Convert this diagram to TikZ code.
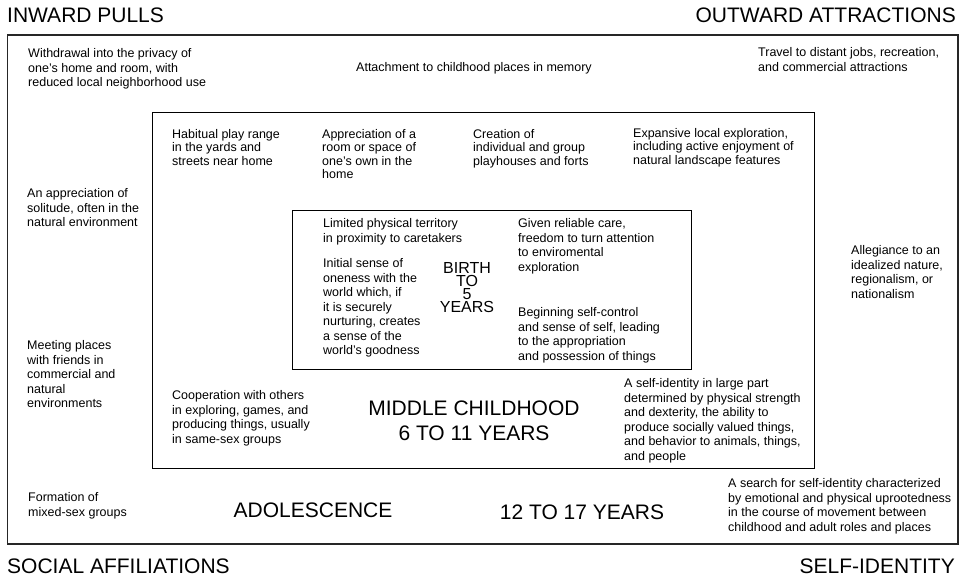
\documentclass[tikz,border=0pt]{standalone}
\usepackage{fontspec}
\setmainfont{Liberation Sans}
\begin{document}
\begin{tikzpicture}[x=1pt,y=-1pt,
  txt/.style={anchor=north west,inner sep=0pt,align=left,font=\fontsize{12.5}{14.5}\selectfont},
  txtb/.style={txt,font=\fontsize{12.5}{13.3}\selectfont},
  big/.style={inner sep=0pt,align=center,font=\fontsize{21}{25}\selectfont},
  mid/.style={inner sep=0pt,align=center,font=\fontsize{16}{13}\selectfont},
  frameo/.style={draw=black!85,line width=1.4pt},
  framei/.style={draw=black,line width=1pt}]
\useasboundingbox (0,0) rectangle (964,577);
% frames
\draw[frameo] (7.5,35) rectangle (958,544);
\draw[framei] (152.5,112.5) rectangle (814,468.5);
\draw[framei] (292.5,211) rectangle (691,369.5);
% titles
\node[big,anchor=west] (tl) at (7,15) {INWARD PULLS};
\node[big,anchor=east] (tr) at (956,15) {OUTWARD ATTRACTIONS};
\node[big,anchor=west] (bl) at (7,566) {SOCIAL AFFILIATIONS};
\node[big,anchor=east] (br) at (955,566) {SELF-IDENTITY};
% outer ring
\node[txt] (o1) at (28,48.4) {Withdrawal into the privacy of\\one’s home and room, with\\reduced local neighborhood use};
\node[txt] (o2) at (356,62.4) {Attachment to childhood places in memory};
\node[txt] (o3) at (758,47.4) {Travel to distant jobs, recreation,\\and commercial attractions};
\node[txt] (o4) at (27,188.4) {An appreciation of\\solitude, often in the\\natural environment};
\node[txt] (o5) at (27,340.4) {Meeting places\\with friends in\\commercial and\\natural\\environments};
\node[txt] (o6) at (851,245.4) {Allegiance to an\\idealized nature,\\regionalism, or\\nationalism};
\node[txt] (o7) at (28,492.4) {Formation of\\mixed-sex groups};
\node[big] (adol) at (313,510) {ADOLESCENCE};
\node[big] (adoly) at (582,512) {12 TO 17 YEARS};
\node[txt] (o8) at (728,478.4) {A search for self-identity characterized\\by emotional and physical uprootedness\\in the course of movement between\\childhood and adult roles and places};
% middle ring
\node[txtb] (m1) at (172,129.4) {Habitual play range\\in the yards and\\streets near home};
\node[txtb] (m2) at (322,129.4) {Appreciation of a\\room or space of\\one’s own in the\\home};
\node[txtb] (m3) at (473,129.4) {Creation of\\individual and group\\playhouses and forts};
\node[txtb] (m4) at (633,128.4) {Expansive local exploration,\\including active enjoyment of\\natural landscape features};
\node[txt] (m5) at (172,390.4) {Cooperation with others\\in exploring, games, and\\producing things, usually\\in same-sex groups};
\node[big] (midc) at (474,420.5) {MIDDLE CHILDHOOD\\6 TO 11 YEARS};
\node[txt] (m6) at (624,378.4) {A self-identity in large part\\determined by physical strength\\and dexterity, the ability to\\produce socially valued things,\\and behavior to animals, things,\\and people};
% inner
\node[txt] (i1) at (323,218.4) {Limited physical territory\\in proximity to caretakers};
\node[txt] (i2) at (518,218.4) {Given reliable care,\\freedom to turn attention\\to enviromental\\exploration};
\node[txt] (i3) at (323,258.4) {Initial sense of\\oneness with the\\world which, if\\it is securely\\nurturing, creates\\a sense of the\\world’s goodness};
\node[mid] (birth) at (467,287.5) {BIRTH\\TO\\5\\YEARS};
\node[txt] (i4) at (518,307.4) {Beginning self-control\\and sense of self, leading\\to the appropriation\\and possession of things};
\end{tikzpicture}
\end{document}
